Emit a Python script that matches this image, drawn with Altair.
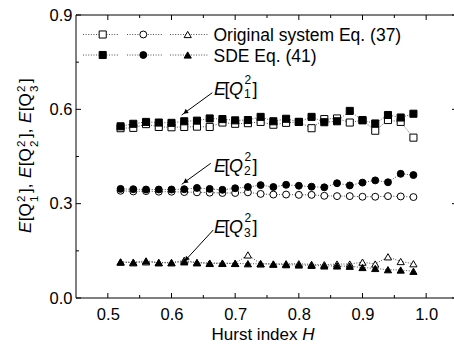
import altair as alt
import pandas as pd

# Hurst index grid
H = [0.52, 0.54, 0.56, 0.58, 0.60, 0.62, 0.64, 0.66, 0.68, 0.70, 0.72, 0.74,
     0.76, 0.78, 0.80, 0.82, 0.84, 0.86, 0.88, 0.90, 0.92, 0.94, 0.96, 0.98]

# Original system, Eq. (37)
q1_orig = [0.540, 0.541, 0.553, 0.544, 0.543, 0.544, 0.545, 0.544, 0.558, 0.554, 0.556, 0.560,
           0.551, 0.557, 0.560, 0.540, 0.569, 0.571, 0.558, 0.566, 0.532, 0.566, 0.560, 0.510]
q2_orig = [0.341, 0.339, 0.340, 0.338, 0.338, 0.337, 0.336, 0.335, 0.334, 0.334, 0.336, 0.331,
           0.329, 0.329, 0.328, 0.328, 0.325, 0.324, 0.324, 0.322, 0.322, 0.324, 0.323, 0.321]
q3_orig = [0.114, 0.112, 0.115, 0.112, 0.112, 0.120, 0.112, 0.110, 0.110, 0.110, 0.137, 0.109,
           0.108, 0.109, 0.109, 0.107, 0.106, 0.108, 0.108, 0.114, 0.108, 0.131, 0.116, 0.109]

# SDE, Eq. (41)
q1_sde = [0.546, 0.554, 0.560, 0.558, 0.557, 0.562, 0.564, 0.571, 0.569, 0.565, 0.566, 0.576,
          0.562, 0.570, 0.560, 0.576, 0.559, 0.562, 0.595, 0.565, 0.555, 0.582, 0.574, 0.586]
q2_sde = [0.347, 0.346, 0.345, 0.345, 0.345, 0.346, 0.350, 0.347, 0.344, 0.349, 0.353, 0.359,
          0.353, 0.360, 0.357, 0.354, 0.352, 0.365, 0.358, 0.367, 0.374, 0.368, 0.395, 0.391]
q3_sde = [0.115, 0.114, 0.118, 0.113, 0.113, 0.115, 0.113, 0.111, 0.111, 0.110, 0.109, 0.109,
          0.108, 0.106, 0.105, 0.104, 0.102, 0.102, 0.101, 0.097, 0.094, 0.090, 0.089, 0.085]

legend_labels = ["Original system Eq. (37)", "SDE Eq. (41)"]

x_ticks = [0.5, 0.6, 0.7, 0.8, 0.9, 1.0]
x_minor = [0.55, 0.65, 0.75, 0.85, 0.95]
y_ticks = [0.0, 0.3, 0.6, 0.9]
y_minor = [0.15, 0.45, 0.75]

FONT = "Liberation Sans"
W, HT = 378, 283      # visible view
XR = 382              # x range runs a little past the right edge of the canvas

xscale = alt.Scale(domain=[0.45, 1.05], range=[0, XR], nice=False, zero=False)
yscale = alt.Scale(domain=[0.0, 0.9], nice=False, zero=False)
xaxis = alt.Axis(values=x_ticks, format=".1f", ticks=False, domain=False, grid=False,
                 labelFont=FONT, labelFontSize=16.5, labelColor="black", labelPadding=8,
                 labelFlush=False, title=None)
yaxis = alt.Axis(values=y_ticks, format=".1f", ticks=False, domain=False, grid=False,
                 labelFont=FONT, labelFontSize=16.5, labelColor="black", labelPadding=4,
                 labelFlush=False, title=None)


def X(field):
    return alt.X(field, type="quantitative", scale=xscale, axis=xaxis)


def Y(field):
    return alt.Y(field, type="quantitative", scale=yscale, axis=yaxis)


layers = []
one = pd.DataFrame({"k": [0]})

# frame: left, top and bottom edges
layers.append(alt.Chart(one).mark_rule(color="black", strokeWidth=1).encode(
    x=alt.value(0), y=alt.value(0), y2=alt.value(HT)))
layers.append(alt.Chart(one).mark_rule(color="black", strokeWidth=1).encode(
    x=alt.value(0), x2=alt.value(XR), y=alt.value(0)))
layers.append(alt.Chart(one).mark_rule(color="black", strokeWidth=1).encode(
    x=alt.value(0), x2=alt.value(XR), y=alt.value(HT)))

# inward ticks on all four sides
for vals, ln in [(x_ticks, 5), (x_minor, 3)]:
    d = pd.DataFrame({"v": vals})
    layers.append(alt.Chart(d).mark_rule(color="black", strokeWidth=1).encode(
        x=X("v"), y=alt.value(HT), y2=alt.value(HT - ln)))
    layers.append(alt.Chart(d).mark_rule(color="black", strokeWidth=1).encode(
        x=X("v"), y=alt.value(0), y2=alt.value(ln)))
for vals, ln in [(y_ticks, 5), (y_minor, 3)]:
    d = pd.DataFrame({"v": vals})
    layers.append(alt.Chart(d).mark_rule(color="black", strokeWidth=1).encode(
        y=Y("v"), x=alt.value(0), x2=alt.value(ln)))
    layers.append(alt.Chart(d).mark_rule(color="black", strokeWidth=1).encode(
        y=Y("v"), x=alt.value(XR), x2=alt.value(XR - ln - 1)))

LINE_COLOR = "#3a3a3a"
DASH = [1, 1.6]
shapes = ["square", "circle", "triangle-up"]
sizes = {"square": 50, "circle": 48, "triangle-up": 52}


def series(vals, shape, filled):
    d = pd.DataFrame({"H": H, "v": vals})
    line = alt.Chart(d).mark_line(color=LINE_COLOR, strokeWidth=0.9, strokeDash=DASH).encode(
        x=X("H"), y=Y("v"))
    pts = alt.Chart(d).mark_point(
        shape=shape, size=sizes[shape], filled=True,
        fill="black" if filled else "white", stroke="black", strokeWidth=1, opacity=1
    ).encode(x=X("H"), y=Y("v"))
    return [line, pts]


for vals, shp in zip([q1_orig, q2_orig, q3_orig], shapes):
    layers += series(vals, shp, False)
for vals, shp in zip([q1_sde, q2_sde, q3_sde], shapes):
    layers += series(vals, shp, True)


def ptext(text, x, y, size, italic=False, angle=0, align="left", baseline="alphabetic"):
    d = pd.DataFrame({"t": [text]})
    kw = dict(font=FONT, fontSize=size, color="black", align=align, baseline=baseline)
    if italic:
        kw["fontStyle"] = "italic"
    if angle:
        kw["angle"] = angle
    return alt.Chart(d).mark_text(**kw).encode(text="t:N", x=alt.value(x), y=alt.value(y))


# legend block
seg = [(7, 43, 26.7), (51, 87, 67.3), (94, 132, 111.7)]
rows = [(19.5, False), (40, True)]
for (ry, filled), label in zip(rows, legend_labels):
    for (a, b, m), shp in zip(seg, shapes):
        d = pd.DataFrame({"t": [label]})
        layers.append(alt.Chart(d).mark_rule(color=LINE_COLOR, strokeWidth=0.9, strokeDash=DASH).encode(
            x=alt.value(a), x2=alt.value(b), y=alt.value(ry)))
        layers.append(alt.Chart(d).mark_point(
            shape=shp, size=sizes[shp], filled=True,
            fill="black" if filled else "white", stroke="black", strokeWidth=1, opacity=1
        ).encode(x=alt.value(m), y=alt.value(ry)))
    layers.append(ptext(label, 137.5, ry + 6.5, 17.5))

# x-axis title
layers.append(ptext("Hurst index", 221.5, 325, 17, align="right"))
layers.append(ptext("H", 226.2, 325, 17, italic=True))

# rotated y-axis title: E[Q_k^2] pieces stacked bottom to top
BX = -45
for k, s in zip(["1", "2", "3"], [218, 163, 108]):
    layers.append(ptext("E", BX, s, 17, italic=True, angle=270))
    layers.append(ptext("[Q", BX, s - 11.8, 17, angle=270))
    layers.append(ptext(k, BX + 7, s - 31.0, 11.5, angle=270))
    layers.append(ptext("2", BX - 6, s - 31.0, 11.5, angle=270))
    layers.append(ptext("]," if k != "3" else "]", BX, s - 40.0, 17, angle=270))

# curve annotations with arrows
ann = [
    ("1", 0.6667, 0.6456, (0.6641, 0.6529), (0.6160, 0.5820), 234),
    ("2", 0.6667, 0.4017, (0.6616, 0.4283), (0.6160, 0.3615), 234),
    ("3", 0.6667, 0.2057, (0.6656, 0.2163), (0.6176, 0.1107), 223),
]
for k, ax_, ay_, tail, tip, ang in ann:
    d = pd.DataFrame({"x": [ax_], "y": [ay_]})

    def piece(text, dx, dy, size, italic):
        kw = dict(font=FONT, fontSize=size, color="black", align="left",
                  baseline="alphabetic", dx=dx, dy=dy)
        if italic:
            kw["fontStyle"] = "italic"
        return alt.Chart(d.assign(t=text)).mark_text(**kw).encode(
            x=X("x"), y=Y("y"), text="t:N")

    layers += [piece("E", 0, 0, 18, True), piece("[", 10.5, 0, 18, False),
               piece("Q", 15, 0, 18, True), piece(k, 30, 3.5, 12, False),
               piece("2", 30.5, -11, 12, False), piece("]", 38.5, 0, 18, False)]
    ad = pd.DataFrame({"x": [tail[0]], "y": [tail[1]], "x2": [tip[0]], "y2": [tip[1]]})
    layers.append(alt.Chart(ad).mark_rule(color="black", strokeWidth=1).encode(
        x=X("x"), y=Y("y"), x2="x2", y2="y2"))
    hd = pd.DataFrame({"x": [tip[0] + 0.12 * (tail[0] - tip[0])],
                       "y": [tip[1] + 0.12 * (tail[1] - tip[1])]})
    layers.append(alt.Chart(hd).mark_point(shape="triangle-up", size=28, filled=True,
                                           color="black", opacity=1, angle=ang).encode(
        x=X("x"), y=Y("y")))

chart = alt.layer(*layers).properties(
    width=W, height=HT,
    autosize=alt.AutoSizeParams(type="none"),
    padding={"left": 76, "top": 15, "right": 0, "bottom": 49},
    background="white",
).configure_view(strokeOpacity=0)

chart.save("out.html", embed_options={"renderer": "svg", "actions": False})
